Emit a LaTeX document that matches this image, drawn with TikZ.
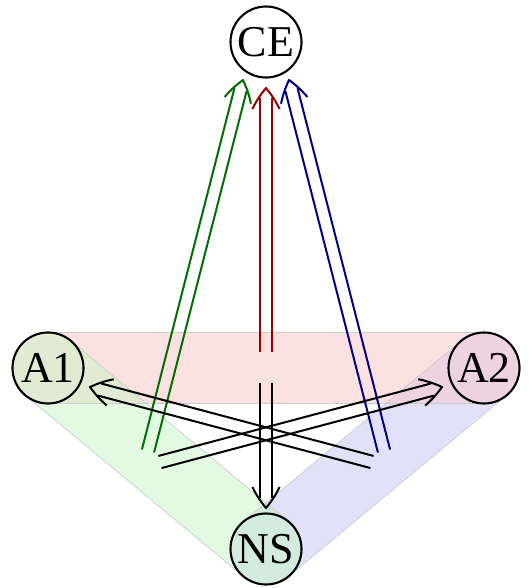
\documentclass[tikz,border=0pt]{standalone}
\usepackage{fontspec}
\setmainfont{Liberation Serif}
\usetikzlibrary{calc}
\definecolor{cgreen}{RGB}{0,110,0}
\definecolor{cred}{RGB}{150,0,0}
\definecolor{cblue}{RGB}{0,0,128}
\definecolor{bpink}{RGB}{250,195,195}
\definecolor{bgreen}{RGB}{196,246,196}
\definecolor{bblue}{RGB}{196,196,246}
\tikzset{
  state/.style={circle, draw, line width=2.1pt, minimum size=71pt, inner sep=0pt,
                font=\fontsize{44}{44}\selectfont},
  band/.style={line width=71pt, line cap=round, opacity=0.5},
  bandedge/.style={line width=0.7pt, black!20},
  arr/.style={line width=2pt},
}
\newcommand\dblarrow[3]{%
  \coordinate (bk) at ($(#2)!10pt!(#1)$);
  \draw[arr,#3] ($(#1)!6.25pt!90:(#2)$) -- ($(bk)!6.25pt!90:(#2)$);
  \draw[arr,#3] ($(#1)!6.25pt!-90:(#2)$) -- ($(bk)!6.25pt!-90:(#2)$);
  \draw[arr,#3,line join=round] ($(#2)!25pt!33:(#1)$) to[bend right=6] (#2) to[bend right=6] ($(#2)!25pt!-33:(#1)$);
}
\begin{document}
\begin{tikzpicture}[x=1pt,y=-1pt]
\useasboundingbox (0,0) rectangle (528,588);
\coordinate (cCE) at (266,42);
\coordinate (cA1) at (48,368);
\coordinate (cA2) at (484,368);
\coordinate (cNS) at (266,549);
% bands
\draw[band, bblue] (cA2) -- (cNS);
\draw[band, bpink] (cA1) -- (cA2);
\draw[band, bgreen] (cA1) -- (cNS);
\draw[bandedge] ($(cA1)!35.5pt!90:(cA2)$) -- ($(cA2)!35.5pt!-90:(cA1)$);
\draw[bandedge] ($(cA1)!35.5pt!-90:(cA2)$) -- ($(cA2)!35.5pt!90:(cA1)$);
\draw[bandedge] ($(cA1)!35.5pt!90:(cNS)$) -- ($(cNS)!35.5pt!-90:(cA1)$);
\draw[bandedge] ($(cA1)!35.5pt!-90:(cNS)$) -- ($(cNS)!35.5pt!90:(cA1)$);
\draw[bandedge] ($(cA2)!35.5pt!90:(cNS)$) -- ($(cNS)!35.5pt!-90:(cA2)$);
\draw[bandedge] ($(cA2)!35.5pt!-90:(cNS)$) -- ($(cNS)!35.5pt!90:(cA2)$);
% nodes
\node[state] (CE) at (cCE) {CE};
\node[state] (A1) at (cA1) {A1};
\node[state] (A2) at (cA2) {A2};
\node[state] (NS) at (cNS) {NS};
% arrow end points
\coordinate (gS) at (148,451);  \coordinate (gE) at (243,80);
\coordinate (bS) at (384,451);  \coordinate (bE) at (289,80);
\coordinate (rS) at (266,352);  \coordinate (rE) at (266,88);
\coordinate (kS) at (266,383);  \coordinate (kE) at (266,508);
\coordinate (xaS) at (160,462); \coordinate (xaE) at (442,387);
\coordinate (xbS) at (372,462); \coordinate (xbE) at (90,387);
\dblarrow{gS}{gE}{cgreen}
\dblarrow{bS}{bE}{cblue}
\dblarrow{rS}{rE}{cred}
\dblarrow{kS}{kE}{black}
\dblarrow{xaS}{xaE}{black}
\dblarrow{xbS}{xbE}{black}
\end{tikzpicture}
\end{document}
